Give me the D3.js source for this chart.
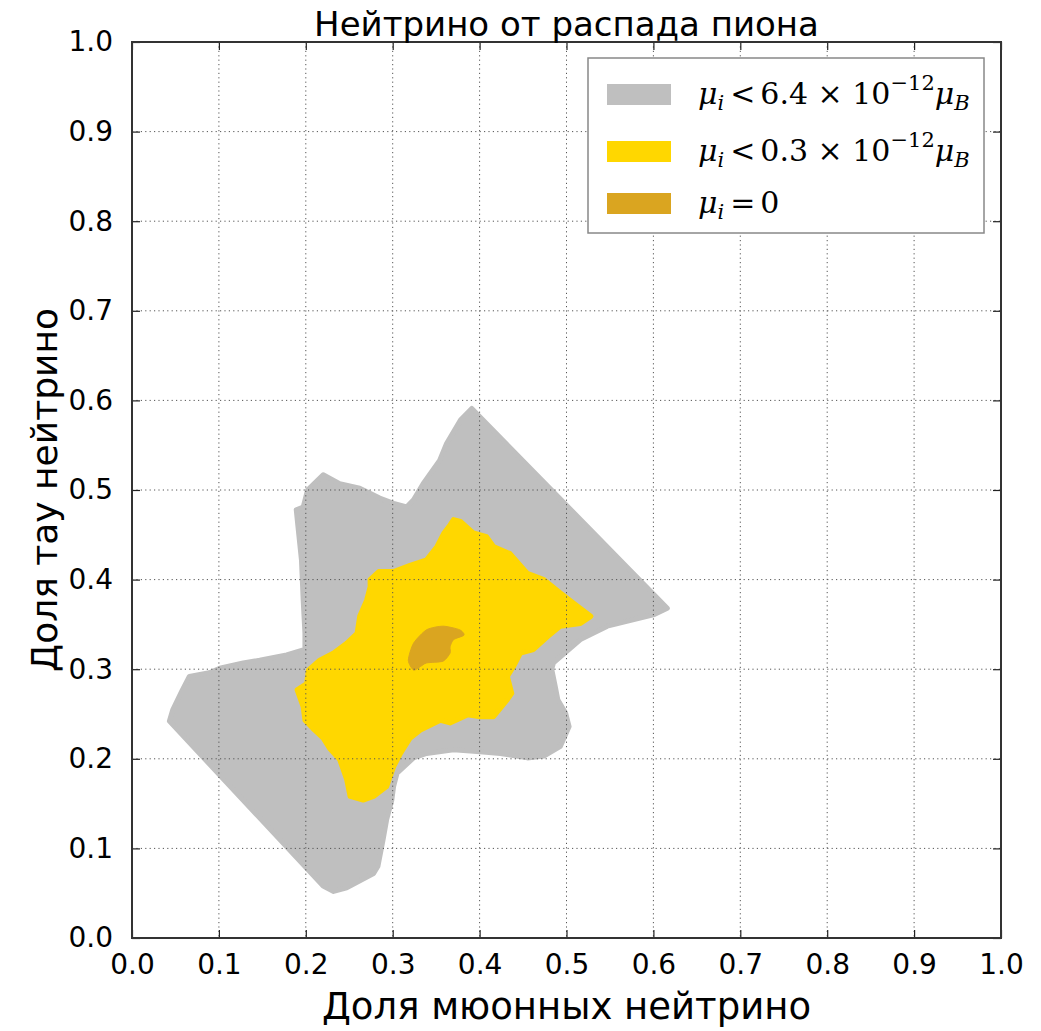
<!DOCTYPE html>
<html><head><meta charset="utf-8">
<script src="https://cdn.jsdelivr.net/npm/d3@7"></script>
<style>body{margin:0;background:#fff}</style>
</head><body>
<svg id="c" width="1041" height="1031"></svg>
<script>
const xTicks = [0.0,0.1,0.2,0.3,0.4,0.5,0.6,0.7,0.8,0.9,1.0];
const yTicks = [0.0,0.1,0.2,0.3,0.4,0.5,0.6,0.7,0.8,0.9,1.0];
const tickLabels = ["0.0","0.1","0.2","0.3","0.4","0.5","0.6","0.7","0.8","0.9","1.0"];

// gray region  mu_i < 6.4e-12 mu_B
const grayX = [0.391,0.616,0.601,0.547,0.516,0.485,0.483,0.487,0.490,0.499,0.503,0.493,0.474,0.455,0.424,0.397,0.370,0.339,0.324,0.305,0.301,0.299,0.293,0.289,0.283,0.278,0.247,0.232,0.220,0.043,0.047,0.058,0.066,0.089,0.101,0.128,0.147,0.178,0.199,0.199,0.197,0.195,0.191,0.189,0.197,0.202,0.220,0.239,0.262,0.285,0.301,0.316,0.324,0.335,0.354,0.362,0.378];
const grayY = [0.591,0.368,0.361,0.348,0.333,0.307,0.300,0.281,0.266,0.251,0.236,0.214,0.203,0.201,0.206,0.208,0.210,0.206,0.201,0.184,0.169,0.154,0.132,0.110,0.080,0.072,0.056,0.052,0.058,0.242,0.255,0.277,0.292,0.296,0.301,0.307,0.310,0.316,0.322,0.340,0.377,0.422,0.459,0.478,0.481,0.500,0.517,0.507,0.502,0.491,0.485,0.481,0.489,0.507,0.533,0.552,0.578];

// yellow region  mu_i < 0.3e-12 mu_B
const yellowX = [0.370,0.378,0.393,0.408,0.416,0.435,0.455,0.474,0.493,0.508,0.528,0.516,0.493,0.478,0.462,0.447,0.439,0.432,0.437,0.432,0.416,0.401,0.386,0.366,0.355,0.332,0.320,0.309,0.301,0.293,0.278,0.266,0.251,0.247,0.239,0.227,0.220,0.208,0.199,0.197,0.190,0.201,0.203,0.216,0.232,0.247,0.259,0.262,0.270,0.274,0.274,0.284,0.301,0.320,0.339,0.351,0.359,0.366];
const yellowY = [0.467,0.465,0.452,0.448,0.437,0.429,0.407,0.400,0.385,0.374,0.359,0.351,0.348,0.336,0.322,0.318,0.303,0.292,0.273,0.266,0.247,0.247,0.249,0.240,0.243,0.232,0.223,0.206,0.191,0.169,0.158,0.154,0.158,0.177,0.199,0.212,0.223,0.234,0.243,0.258,0.277,0.284,0.299,0.310,0.318,0.329,0.340,0.359,0.377,0.392,0.400,0.409,0.409,0.416,0.422,0.437,0.452,0.461];

// dark gold region  mu_i = 0
const goldX = [0.324,0.318,0.324,0.339,0.358,0.377,0.382,0.370,0.366,0.366,0.358,0.339,0.332];
const goldY = [0.299,0.310,0.329,0.344,0.348,0.344,0.338,0.333,0.325,0.318,0.309,0.307,0.303];

const legendColors = ["#bfbfbf","#ffd700","#daa520"];

const L=132, R=1001, T=42, B=938;
const svg = d3.select("#c");
const x = d3.scaleLinear().domain([0,1]).range([L,R]);
const y = d3.scaleLinear().domain([0,1]).range([B,T]);

// regions
const regions = [
  {xs:grayX, ys:grayY, c:legendColors[0], curve:d3.curveLinearClosed, sw:5},
  {xs:yellowX, ys:yellowY, c:legendColors[1], curve:d3.curveLinearClosed, sw:5},
  {xs:goldX, ys:goldY, c:legendColors[2], curve:d3.curveCardinalClosed.tension(0.3), sw:1}
];
regions.forEach(r=>{
  const line = d3.line().x(d=>x(d[0])).y(d=>y(d[1])).curve(r.curve);
  const pts = r.xs.map((v,i)=>[v, r.ys[i]]);
  svg.append("path").attr("d", line(pts)).attr("fill", r.c)
    .attr("stroke", r.c).attr("stroke-width", r.sw).attr("stroke-linejoin","round");
});

// grid
const g = svg.append("g");
g.selectAll(".gx").data(xTicks.slice(1,-1)).enter().append("line")
  .attr("x1",d=>x(d)).attr("x2",d=>x(d)).attr("y1",T).attr("y2",B)
  .attr("stroke","#555").attr("stroke-width",1).attr("stroke-dasharray","1.2,3.2");
g.selectAll(".gy").data(yTicks.slice(1,-1)).enter().append("line")
  .attr("y1",d=>y(d)).attr("y2",d=>y(d)).attr("x1",L).attr("x2",R)
  .attr("stroke","#555").attr("stroke-width",1).attr("stroke-dasharray","1.2,3.2");

// axes with inward ticks
const fmt = (d)=>tickLabels[Math.round(d*10)];
const ax = (sel)=>{ sel.select(".domain").remove(); };
svg.append("g").attr("transform",`translate(0,${B})`)
  .call(d3.axisBottom(x).tickValues(xTicks).tickSize(-8).tickPadding(16).tickFormat(fmt)).call(ax);
svg.append("g").attr("transform",`translate(0,${T})`)
  .call(d3.axisTop(x).tickValues(xTicks).tickSize(-8).tickFormat("")).call(ax);
svg.append("g").attr("transform",`translate(${L},0)`)
  .call(d3.axisLeft(y).tickValues(yTicks).tickSize(-8).tickPadding(19).tickFormat(fmt)).call(ax);
svg.append("g").attr("transform",`translate(${R},0)`)
  .call(d3.axisRight(y).tickValues(yTicks).tickSize(-8).tickFormat("")).call(ax);
svg.selectAll(".tick line").attr("stroke","#222").attr("stroke-width",1.2);
svg.selectAll(".tick text").attr("font-family","DejaVu Sans").attr("font-size",28).attr("fill","#000");

// frame
svg.append("rect").attr("x",L).attr("y",T).attr("width",R-L).attr("height",B-T)
  .attr("fill","none").attr("stroke","#333").attr("stroke-width",2);

// title and labels
svg.append("text").attr("x",(L+R)/2).attr("y",36).attr("text-anchor","middle")
  .attr("font-family","DejaVu Sans").attr("font-size",34).text("Нейтрино от распада пиона");
svg.append("text").attr("x",(L+R)/2).attr("y",1019).attr("text-anchor","middle")
  .attr("font-family","DejaVu Sans").attr("font-size",37).text("Доля мюонных нейтрино");
svg.append("text").attr("transform",`translate(57,${(T+B)/2}) rotate(-90)`).attr("text-anchor","middle")
  .attr("font-family","DejaVu Sans").attr("font-size",36).text("Доля тау нейтрино");

// legend
const lg = svg.append("g");
lg.append("rect").attr("x",588).attr("y",58).attr("width",396).attr("height",175)
  .attr("fill","#fff").attr("stroke","#888").attr("stroke-width",1.5);
const legendRows = [
  {c:legendColors[0], num:"6.4", yb:104},
  {c:legendColors[1], num:"0.3", yb:161},
  {c:legendColors[2], num:null, yb:213}
];
legendRows.forEach(r=>{
  lg.append("rect").attr("x",607).attr("y",r.yb-20).attr("width",64).attr("height",21).attr("fill",r.c);
  const t = lg.append("text").attr("x",698).attr("y",r.yb).attr("font-family","DejaVu Serif").attr("font-size",30);
  t.append("tspan").attr("font-style","italic").text("μ");
  t.append("tspan").attr("font-style","italic").attr("font-size",21).attr("dy",6).text("i");
  if(r.num){
    t.append("tspan").attr("dy",-6).attr("dx",6).text("<");
    t.append("tspan").attr("dx",5).text(r.num + " × 10");
    t.append("tspan").attr("font-size",21).attr("dy",-14).text("−12");
    t.append("tspan").attr("font-style","italic").attr("dy",14).text("μ");
    t.append("tspan").attr("font-style","italic").attr("font-size",21).attr("dy",6).text("B");
  } else {
    t.append("tspan").attr("dy",-6).attr("dx",6).text("=");
    t.append("tspan").attr("dx",5).text("0");
  }
});
</script>
</body></html>
